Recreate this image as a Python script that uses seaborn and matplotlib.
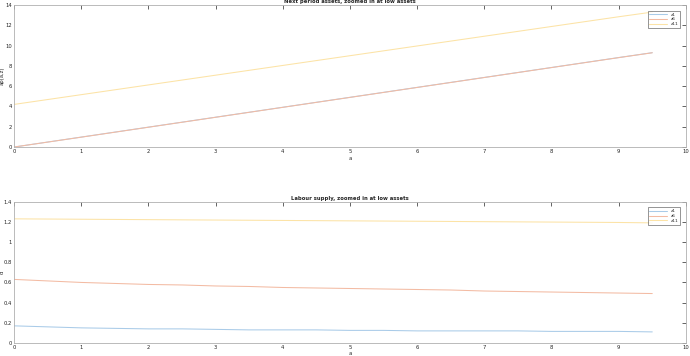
import numpy as np
import pandas as pd
import matplotlib
matplotlib.use("Agg")
import matplotlib.pyplot as plt
import seaborn as sns

# ---- data ----
a_top = [0, 1, 2, 3, 4, 5, 6, 7, 8, 9, 9.5]
ap_z1 = [0.0, 0.98, 1.96, 2.94, 3.92, 4.90, 5.88, 6.86, 7.84, 8.82, 9.30]
ap_z6 = [0.0, 0.97, 1.95, 2.93, 3.91, 4.89, 5.87, 6.85, 7.83, 8.81, 9.29]
ap_z11 = [4.20, 5.16, 6.12, 7.08, 8.04, 9.00, 9.96, 10.92, 11.88, 12.84, 13.30]

a_bot = [0, 0.5, 1, 1.5, 2, 2.5, 3, 3.5, 4, 4.5, 5, 5.5, 6, 6.5, 7, 7.5, 8, 8.5, 9, 9.5]
d_z1 = [0.17, 0.16, 0.15, 0.145, 0.14, 0.14, 0.135, 0.13, 0.13, 0.13,
        0.125, 0.125, 0.12, 0.12, 0.12, 0.12, 0.115, 0.115, 0.115, 0.11]
d_z6 = [0.63, 0.615, 0.60, 0.59, 0.58, 0.575, 0.565, 0.56, 0.55, 0.545,
        0.54, 0.535, 0.53, 0.525, 0.515, 0.51, 0.505, 0.50, 0.495, 0.49]
d_z11 = [1.23, 1.228, 1.226, 1.224, 1.222, 1.22, 1.218, 1.216, 1.214, 1.212,
         1.21, 1.208, 1.206, 1.204, 1.202, 1.20, 1.198, 1.196, 1.194, 1.19]

labels = ["z1", "z6", "z11"]
colors = ["#a9cbe8", "#f3bba3", "#fce3a6"]

top_df = pd.concat([
    pd.DataFrame({"a": a_top, "v": v, "z": lab})
    for v, lab in zip([ap_z1, ap_z6, ap_z11], labels)
])
bot_df = pd.concat([
    pd.DataFrame({"a": a_bot, "v": v, "z": lab})
    for v, lab in zip([d_z1, d_z6, d_z11], labels)
])

sns.set_theme(style="white")
plt.rcParams["font.family"] = ["DejaVu Sans"]

fig = plt.figure(figsize=(6.9, 3.56), dpi=100)
fig.patch.set_facecolor("white")
ax1 = fig.add_axes([0.0203, 0.587, 0.9737, 0.399])
ax2 = fig.add_axes([0.0203, 0.0365, 0.9737, 0.397])

fs = 3.8
for ax, df, ylim, yticks, ylab, title in [
    (ax1, top_df, (0, 14), np.arange(0, 15, 2), "ap(a,z)",
     "Next period assets, zoomed in at low assets"),
    (ax2, bot_df, (0, 1.4), np.round(np.arange(0, 1.41, 0.2), 1), "d",
     "Labour supply, zoomed in at low assets"),
]:
    sns.lineplot(data=df, x="a", y="v", hue="z", palette=colors, ax=ax,
                 linewidth=0.75, legend=True, estimator=None, sort=False)
    ax.set_xlim(0, 10)
    ax.set_ylim(*ylim)
    ax.set_xticks(range(0, 11))
    ax.set_yticks(yticks)
    ax.set_yticklabels([("%g" % t) for t in yticks])
    ax.tick_params(direction="in", length=3, width=0.5, labelsize=fs,
                   colors="#262626", top=True, right=True, pad=1.5)
    for s in ax.spines.values():
        s.set_color("#b0b0b0")
        s.set_linewidth(0.6)
    ax.set_xlabel("a", fontsize=fs, labelpad=1)
    ax.set_ylabel(ylab, fontsize=fs)
    ax.yaxis.set_label_coords(-0.0145, 0.5)
    ax.set_title(title, fontsize=fs, fontweight="bold", pad=1.5)
    leg = ax.legend(loc="upper right", fontsize=3.2, frameon=True,
                    fancybox=False, borderpad=0.4, handlelength=4,
                    labelspacing=0.15, bbox_to_anchor=(0.995, 0.975))
    leg.get_frame().set_edgecolor("#444444")
    leg.get_frame().set_linewidth(0.5)

fig.savefig("out.png", dpi=100, facecolor="white")
